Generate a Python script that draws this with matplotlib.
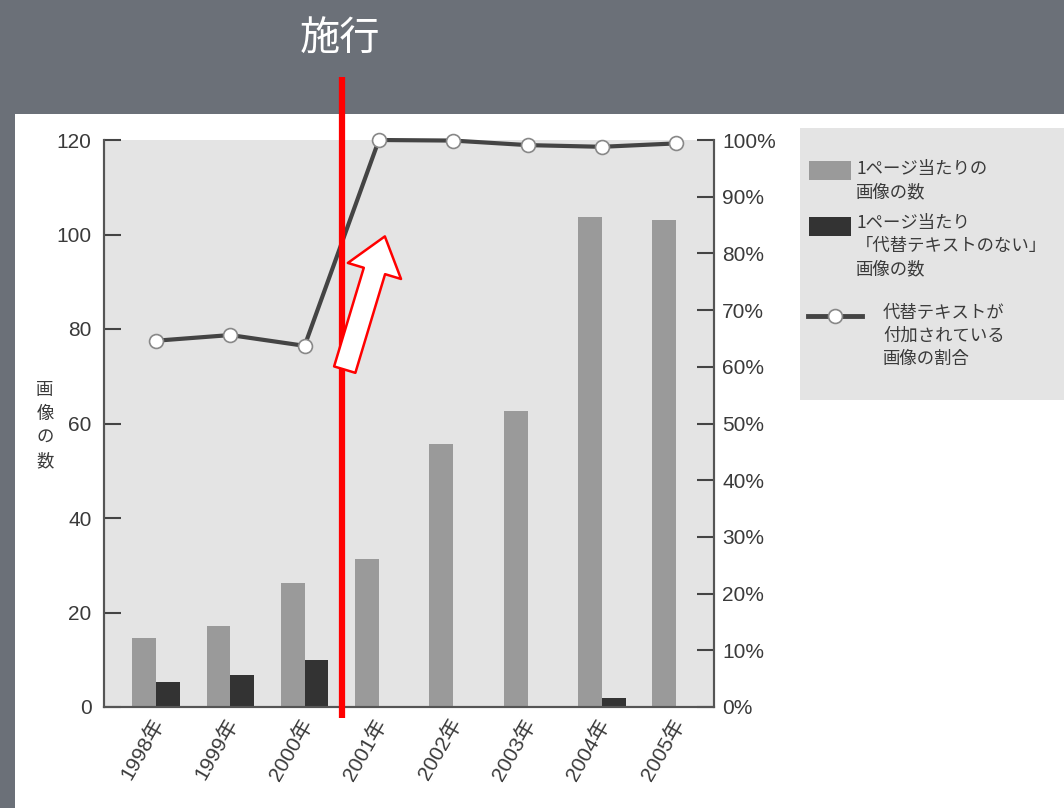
import matplotlib
matplotlib.use("Agg")
import matplotlib.pyplot as plt
import numpy as np
from matplotlib.patches import Rectangle, FancyArrowPatch
from matplotlib.lines import Line2D
import matplotlib.transforms as mtrans

plt.rcParams['font.family'] = ['Liberation Sans', 'Noto Sans CJK JP', 'DejaVu Sans']

years = ["1998年", "1999年", "2000年", "2001年", "2002年", "2003年", "2004年", "2005年"]
images_per_page = [14.5, 17.2, 26.2, 31.4, 55.7, 62.6, 103.7, 103.0]
no_alt_per_page = [5.3, 6.8, 9.9, 0, 0, 0, 1.8, 0]
alt_ratio_pct = [64.6, 65.6, 63.7, 100.0, 99.9, 99.1, 98.8, 99.4]
left_ticks = [0, 20, 40, 60, 80, 100, 120]
right_ticks = list(range(0, 101, 10))
right_labels = [f"{v}%" for v in right_ticks]

title_text = "施行"
ylabel_text = "画像の数"
legend_labels = ["1ページ当たりの\n画像の数",
                 "1ページ当たり\n「代替テキストのない」\n画像の数",
                 "代替テキストが\n付加されている\n画像の割合"]

W, H = 1064, 808
fig = plt.figure(figsize=(W / 100, H / 100), dpi=100)
fig.patch.set_facecolor('#6b7078')

# white panel
fig.patches.append(Rectangle((15 / W, 0), 1 - 15 / W, (H - 114) / H,
                             transform=fig.transFigure, facecolor='white',
                             edgecolor='none', zorder=-10))

CJK = ['Noto Sans CJK JP', 'DejaVu Sans']
TXT = '#3a3a3a'
GRAY = '#9a9a9a'
DARK = '#333333'

L, R, T, B = 104, 714, 140, 707
ax = fig.add_axes([L / W, (H - B) / H, (R - L) / W, (B - T) / H])
ax.set_facecolor('#e4e4e4')
x = np.arange(len(years))
bw = 0.32
ax.bar(x - bw / 2, images_per_page, width=bw, color=GRAY, zorder=2)
ax.bar(x + bw / 2, no_alt_per_page, width=bw, color=DARK, zorder=2)
ax.set_xlim(-0.70, 7.51)
ax.set_ylim(0, 120)
ax.set_yticks(left_ticks)
ax.set_yticklabels([str(v) for v in left_ticks], fontsize=15, color=TXT)
ax.tick_params(axis='y', direction='in', length=12, width=1.5, color='#444', pad=9)
ax.set_xticks(x)
ax.set_xticklabels(years, rotation=60, ha='right', va='top', rotation_mode='anchor',
                   fontsize=15, color=TXT)
ax.tick_params(axis='x', length=0, pad=6)
offset = mtrans.ScaledTranslation(-5 / 100, 0, fig.dpi_scale_trans)
for lab in ax.get_xticklabels():
    lab.set_transform(lab.get_transform() + offset)
ax.spines['top'].set_visible(False)
for s in ['left', 'right', 'bottom']:
    ax.spines[s].set_color('#555')
    ax.spines[s].set_linewidth(1.5)

ax2 = ax.twinx()
ax2.set_ylim(0, 100)
ax2.plot(x, alt_ratio_pct, color='#444', lw=3, marker='o', ms=10,
         mfc='white', mec='#888', mew=1.2, zorder=5, clip_on=False)
ax2.set_yticks(right_ticks)
ax2.set_yticklabels(right_labels, fontsize=15, color=TXT)
ax2.tick_params(axis='y', direction='in', length=12, width=1.5, color='#444', pad=6)
ax2.spines['top'].set_visible(False)
for s in ['left', 'right', 'bottom']:
    ax2.spines[s].set_color('#555')
    ax2.spines[s].set_linewidth(1.5)

# red vertical line (enforcement) at boundary between 2000 and 2001
trans = mtrans.blended_transform_factory(ax2.transData, ax2.transAxes)
ax2.plot([2.5, 2.5], [-0.02, 1.111], transform=trans, color='#ff0000', lw=4.5,
         clip_on=False, zorder=10, solid_capstyle='butt')

# arrow
arr = FancyArrowPatch((2.54, 59.5), (3.08, 83.0),
                      arrowstyle='simple,head_width=1.0,head_length=0.65,tail_width=0.4',
                      mutation_scale=40, facecolor='white', edgecolor='#ff0000',
                      lw=1.8, zorder=11, shrinkA=0, shrinkB=0)
ax2.add_patch(arr)

# title
fig.text(340 / W, 1 - 39 / H, title_text, color='white', fontsize=29,
         ha='center', va='center', family=CJK)

# left y label, stacked characters
fig.text(45 / W, 1 - 426 / H, "\n".join(ylabel_text), color=TXT, fontsize=12.5,
         ha='center', va='center', family=CJK, linespacing=1.42)

# legend panel
lax = fig.add_axes([800 / W, (H - 400) / H, (W - 800) / W, 272 / H])
lax.set_xlim(0, W - 800)
lax.set_ylim(272, 0)
lax.set_facecolor('#e4e4e4')
for s in lax.spines.values():
    s.set_visible(False)
lax.set_xticks([])
lax.set_yticks([])
lax.add_patch(Rectangle((9, 33), 42, 19, facecolor=GRAY, edgecolor='none'))
lax.add_patch(Rectangle((9, 89), 42, 19, facecolor=DARK, edgecolor='none'))
lax.add_line(Line2D([8, 62], [188, 188], color='#444', lw=3.5))
lax.plot([35], [188], marker='o', ms=10, mfc='white', mec='#888', mew=1.2)
lax.text(56, 32, legend_labels[0], fontsize=12.5, color=TXT, va='top', ha='left',
         family=CJK, linespacing=1.36)
lax.text(56, 86, legend_labels[1], fontsize=12.5, color=TXT, va='top', ha='left',
         family=CJK, linespacing=1.36)
lax.text(83, 176, legend_labels[2], fontsize=12.5, color=TXT, va='top', ha='left',
         family=CJK, linespacing=1.36)

fig.savefig("out.png", dpi=100, facecolor=fig.get_facecolor())
